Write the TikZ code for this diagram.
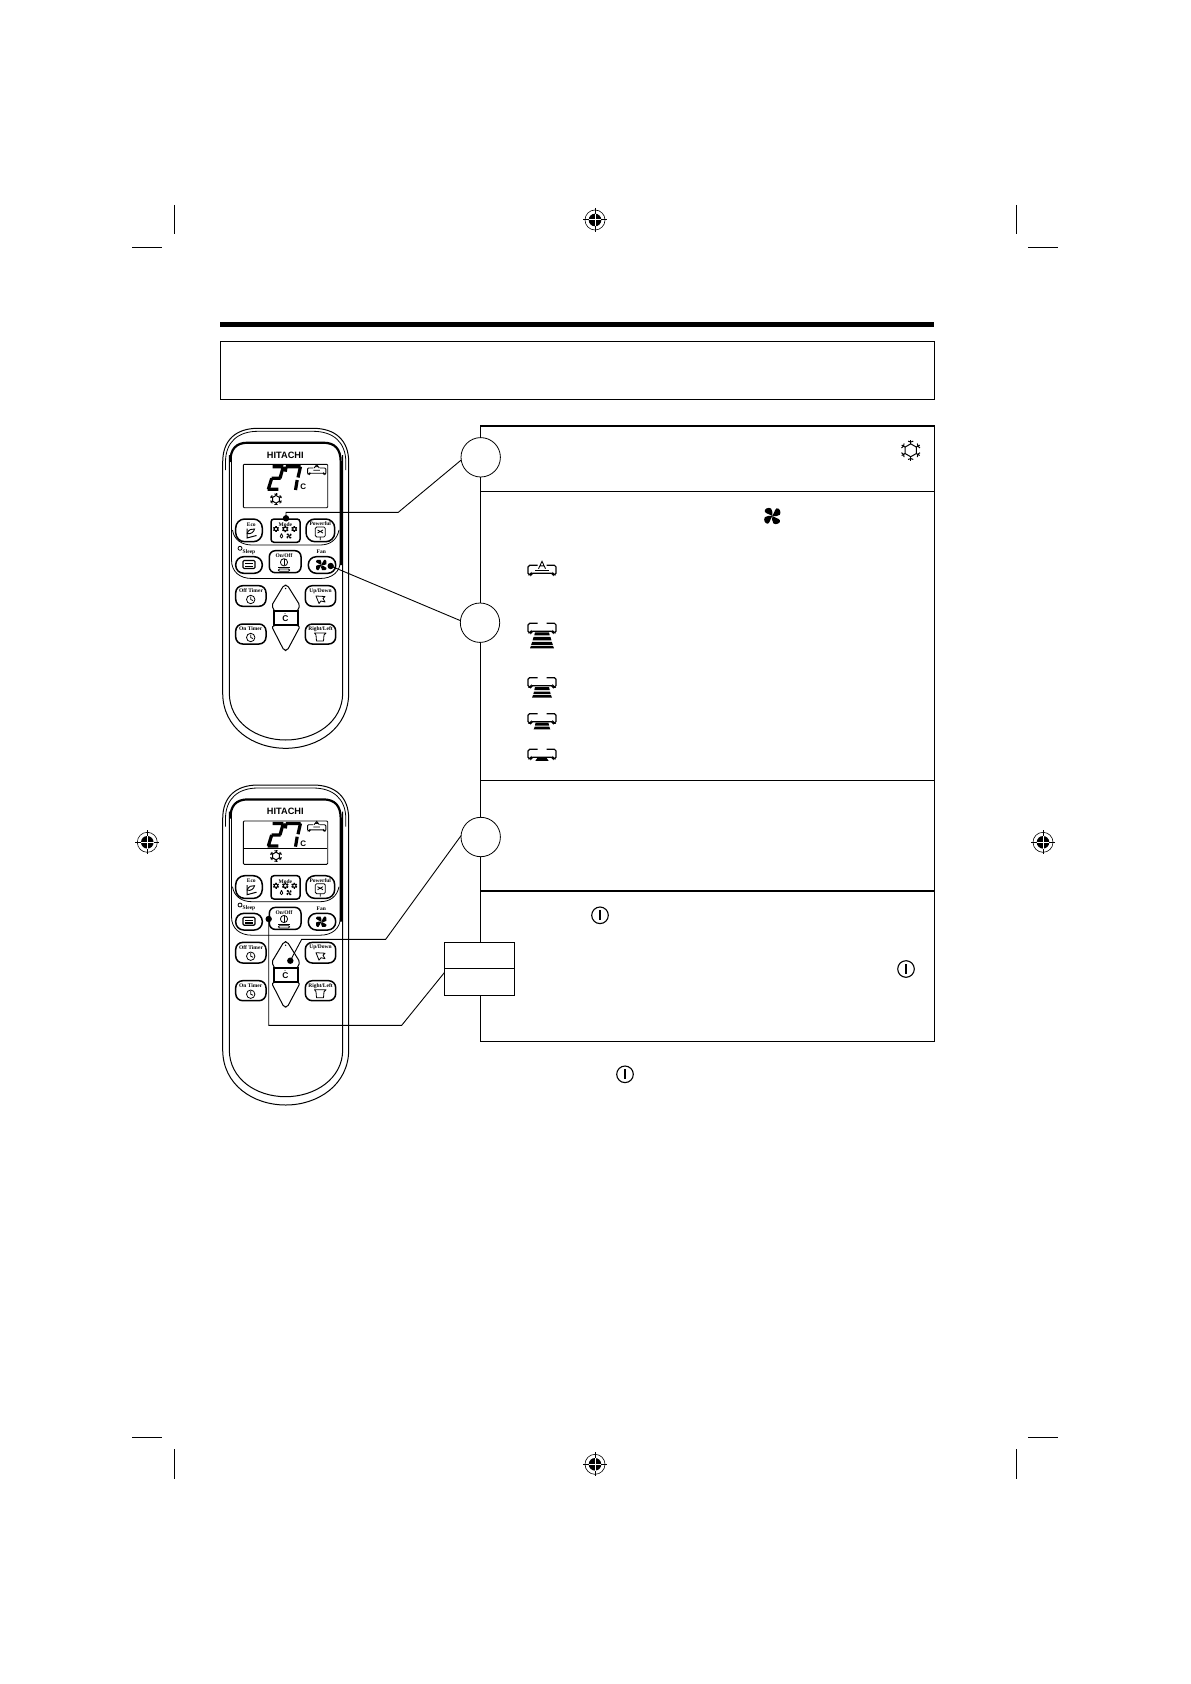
\documentclass[tikz,border=0pt]{standalone}
\usepackage{fontspec}
\setmainfont{Liberation Serif}
\newfontfamily\hitfont{Liberation Sans}
\tikzset{
  frameline/.style={line width=0.55pt,draw=black},
  thinline/.style={line width=0.4pt,draw=black},
  bodyline/.style={line width=0.5pt,draw=black},
  heavyline/.style={line width=1.1pt,draw=black},
  btn/.style={line width=0.75pt,draw=black},
  iconline/.style={line width=0.4pt,draw=black,line join=round},
  flakeline/.style={line width=0.5pt,draw=black,line join=round},
  segline/.style={line width=1.6pt,draw=black},
  acline/.style={line width=0.6pt,draw=black,rounded corners=0.8pt},
  lbl/.style={inner sep=0pt,outer sep=0pt,font=\bfseries\fontsize{2.75}{3.2}\selectfont},
  callout/.style={circle,thinline,fill=white,minimum size=19.7pt,inner sep=0pt,outer sep=0pt},
  tagbox/.style={rectangle,frameline,fill=white,minimum width=35.2pt,inner sep=0pt,outer sep=0pt},
  bigdot/.style={circle,fill=black,minimum size=3.2pt,inner sep=0pt,outer sep=0pt},
  leader/.style={line width=0.45pt,draw=black}
}
% registration mark
\newcommand{\regmark}[2]{%
  \begin{scope}[shift={(#1,#2)}]
    \draw[line width=0.3pt] (0,0) circle[radius=10];
    \fill[black] (0,0) circle[radius=6.3];
    \draw[line width=0.5pt] (-12,0) -- (-6.3,0) (6.3,0) -- (12,0) (0,-12) -- (0,-6.3) (0,6.3) -- (0,12);
    \draw[white,line width=0.5pt] (-6.3,0) -- (6.3,0) (0,-6.3) -- (0,6.3);
  \end{scope}}
% air-conditioner outline, origin at the middle of its top edge
\newcommand{\acbody}{%
  \draw[acline] (-4.5,0) -- (-14,0) -- (-14,9.5) -- (-11,9.5) -- (-11,8) -- (11,8) -- (11,9.5) -- (14,9.5) -- (14,0) -- (4.5,0);}
% one trapezoid bar of the fan-speed stack
\newcommand{\acbar}[4]{\fill[black] (-#2,#1) -- (#2,#1) -- (#4,#3) -- (-#4,#3) -- cycle;}
\newcommand{\snowflake}[3]{%
  \begin{scope}[shift={(#1,#2)},scale=#3]
    \draw[flakeline] (90:6.6) -- (30:6.6) -- (-30:6.6) -- (-90:6.6) -- (-150:6.6) -- (150:6.6) -- cycle;
    \foreach \a in {30,90,150,210,270,330}{
      \draw[flakeline] (\a:6.6) -- (\a:10.6);
      \draw[flakeline] (\a:8.4) ++(\a+70:2.8) -- (\a:8.4) -- ++(\a-70:2.8);
    }
  \end{scope}}
\newcommand{\fanicon}[3]{%
  \begin{scope}[shift={(#1,#2)},scale=#3]
    \foreach \a in {15,105,195,285}{
      \fill[black,rotate=\a] (0,0) .. controls (-1.5,-2.5) and (-5.5,-3.5) .. (-6.2,-6) .. controls (-6.8,-9) and (-1,-10) .. (0.8,-7.5) .. controls (1.8,-5) and (1,-2.5) .. (0,0);
    }
  \end{scope}}
\newcommand{\powericon}[3]{%
  \draw[line width=0.55pt] (#1,#2) circle[radius=#3];
  \draw[line width=0.8pt] (#1,#2-0.6*#3) -- (#1,#2+0.6*#3);}
\newcommand{\clockicon}[2]{%
  \draw[iconline] (#1,#2) circle[radius=4.2];
  \draw[iconline] (#1,#2-3) -- (#1,#2) -- (#1+2.2,#2+1);}
\newcommand{\remote}[3]{%
\begin{scope}[shift={(0,#2)}]
  % case
  \draw[bodyline] (222.7,462) .. controls (222.7,440) and (236,428.3) .. (258,428.3) -- (313,428.3) .. controls (335,428.3) and (348.7,440) .. (348.7,462) -- (348.7,693) .. controls (348.7,728) and (318,748.3) .. (285.7,748.3) .. controls (253,748.3) and (222.7,728) .. (222.7,693) -- cycle;
  \draw[thinline] (225.5,470) -- (225.5,462) .. controls (225.5,442) and (238,431.3) .. (258,431.3) -- (313,431.3) .. controls (333,431.3) and (345.8,442) .. (345.8,462) -- (345.8,470);
  \draw[bodyline] (229.3,455) -- (229.3,693) .. controls (229.3,722) and (256,740) .. (285.7,740) .. controls (315,740) and (342.7,722) .. (342.7,693) -- (342.7,455);
  % panel
  \draw[thinline] (231.5,455) -- (231.5,560) .. controls (231.5,572) and (240,578.5) .. (252,578.5) -- (320,578.5) .. controls (332,578.5) and (340.5,572) .. (340.5,560) -- (340.5,455);
  \draw[heavyline] (230.3,462) .. controls (230.3,449) and (236,442.7) .. (248,442.7) -- (323,442.7) .. controls (335,442.7) and (340.7,449) .. (340.7,462) -- (340.7,565);
  \draw[thinline] (232.5,530) .. controls (234,540) and (242,545) .. (252,545) -- (320,545) .. controls (330,545) and (337,540) .. (339,530);
  \node[font=\hitfont\bfseries\fontsize{4.6}{5}\selectfont,inner sep=0pt] (hit#1) at (285.3,455) {HITACHI};
  % display
  \draw[line width=0.45pt,rounded corners=0.5pt] (243.3,464.3) rectangle (327.7,507.7);
  #3
  \draw[segline] (272.7,466.7) -- (283.3,466.7) (283.3,466.7) -- (280,478.3) (271.7,478.3) -- (280.5,478.3) (271.7,478.3) -- (268.3,489.3) (267.6,489.3) -- (278.3,489.3);
  \draw[segline] (285.8,466.7) -- (300.7,466.7) (286,466.7) -- (285.3,471.7) (300.5,466.7) -- (298,477.5) (297.2,480) -- (295.5,490);
  \node[inner sep=0pt,font=\hitfont\bfseries\fontsize{4}{4.5}\selectfont] (unit#1) at (303.3,487) {C};
  \snowflake{276}{499.3}{0.58}
  % buttons, first row
  \draw[btn,rounded corners=4.5pt] (235.7,519) rectangle (262.3,541.7);
  \draw[btn,rounded corners=1.5pt] (271,519) rectangle (300,542.3);
  \draw[btn,rounded corners=4.5pt] (306,519) rectangle (334.7,541.7);
  \node[lbl] (eco#1) at (251.3,524.3) {Eco};
  \node[lbl] (mode#1) at (285.3,524.8) {Mode};
  \node[lbl] (pow#1) at (320.3,523.7) {Powerful};
  \draw[line width=0.5pt] (247,528.5) -- (247,538) -- (256.5,535.5);
  \draw[line width=0.45pt] (247,533.5) .. controls (248.5,529.5) and (252,528.5) .. (254.5,529) .. controls (254,532) and (251,534.5) .. (247,533.5);
  \snowflake{276}{529}{0.27}
  \snowflake{285.3}{529}{0.3}
  \snowflake{294.3}{529}{0.27}
  \draw[iconline] (281.5,533.5) .. controls (280,535.5) and (279.5,538) .. (281.5,538) .. controls (283.5,538) and (283,535.5) .. (281.5,533.5);
  \fanicon{289}{536}{0.33}
  \draw[iconline,rounded corners=0.7pt] (315.3,527) rectangle (325.3,537);
  \draw[iconline] (317.5,530) -- (323,533) (323,530) -- (317.5,533) (320.3,537) -- (320.3,540);
  % buttons, second row
  \draw[btn,rounded corners=4pt] (235.7,556.7) rectangle (262.3,573.3);
  \draw[btn,rounded corners=3pt] (269.3,550.7) rectangle (301,572.7);
  \draw[btn,rounded corners=4pt] (308.3,556.7) rectangle (335.7,573.3);
  \draw[iconline] (240,548.3) circle[radius=2];
  \node[lbl] (sleep#1) at (249,551.7) {Sleep};
  \node[lbl] (onoff#1) at (284,555.7) {On/Off};
  \node[lbl] (fan#1) at (321.3,551.7) {Fan};
  \draw[line width=0.55pt,rounded corners=0.6pt] (243,560.5) rectangle (255,568.5);
  \draw[line width=0.45pt] (245,563.5) -- (253,563.5);
  \fill[black] (245,565.5) rectangle (253,567);
  \draw[iconline] (284,562.3) circle[radius=3.6];
  \draw[line width=0.5pt] (284,559.3) -- (284,565.3);
  \draw[iconline] (278.3,567.2) -- (289.7,567.2);
  \draw[iconline,rounded corners=0.6pt] (278.3,569) rectangle (289.7,571.2);
  \fanicon{321.3}{565}{0.68}
  % timer row
  \draw[btn,rounded corners=3.5pt] (235.7,585.7) rectangle (266,606.3);
  \draw[btn,rounded corners=3.5pt] (305.3,585.7) rectangle (335.7,606.3);
  \draw[btn,rounded corners=3.5pt] (235.7,624) rectangle (266,644);
  \draw[btn,rounded corners=3.5pt] (305.3,624) rectangle (335.7,644);
  \node[lbl] (offt#1) at (251,591) {Off Timer};
  \node[lbl] (updn#1) at (320.5,591) {Up/Down};
  \node[lbl] (ont#1) at (250.7,629) {On Timer};
  \node[lbl] (rtlt#1) at (320.5,629) {Right/Left};
  \clockicon{250.7}{599.5}
  \clockicon{250.7}{637.5}
  \draw[iconline] (316,596) -- (319,603.5) -- (321,601) -- (325,602) -- (323,598.5) -- (325,596.5) -- cycle;
  \draw[iconline] (314.5,633) -- (326,633) -- (324,635) -- (323.5,641) -- (316.5,641) -- (316,635) -- cycle;
  % temperature keys
  \draw[line width=0.5pt,rounded corners=1pt,line join=round] (275,612) -- (271.7,605.5) -- (284,585) -- (287.2,585) -- (300,605.5) -- (296.8,612);
  \draw[line width=0.5pt,rounded corners=1pt,line join=round] (275,625.5) -- (271.7,626.5) -- (284,650.5) -- (287.2,650.5) -- (300,626.5) -- (296.8,625.5);
  \fill[black] (285.6,588.5) circle[radius=0.8];
  \draw[line width=1pt] (273.5,611.3) rectangle (298,625);
  \node[inner sep=0pt,font=\hitfont\bfseries\fontsize{4.2}{4.5}\selectfont] (temp#1) at (285.5,619) {C};
  \fill[black] (285,613.7) circle[radius=0.5];
\end{scope}}
\begin{document}
\begin{tikzpicture}[x=0.5pt,y=-0.5pt]
  \useasboundingbox (0,0) rectangle (1190,1684);
  \fill[white] (0,0) rectangle (1190,1684);

  % crop marks
  \draw[frameline] (174.3,205) -- (174.3,234.5) (132.3,247.3) -- (162,247.3);
  \draw[frameline] (1016.3,205) -- (1016.3,234.5) (1028,247.3) -- (1058,247.3);
  \draw[frameline] (174.3,1449) -- (174.3,1478.7) (132.3,1437.5) -- (162,1437.5);
  \draw[frameline] (1016.3,1449) -- (1016.3,1478.7) (1028,1437.5) -- (1058,1437.5);
  \regmark{595}{220}
  \regmark{595}{1464.3}
  \regmark{147.3}{842.3}
  \regmark{1043}{842.3}

  % heading
  \fill[black] (220,321.8) rectangle (934.3,327);
  \draw[frameline] (220.3,341.2) rectangle (934.3,399.3);

  % table
  \draw[frameline] (480.5,426) rectangle (934.3,1041.3);
  \draw[frameline] (480.5,491.3) -- (934.3,491.3) (480.5,780.3) -- (934.3,780.3) (480.5,891) -- (934.3,891);

  % remotes
  \remote{a}{0}{%
    \begin{scope}[shift={(316.7,468)},scale=0.65]
      \draw[line width=0.45pt,rounded corners=0.5pt] (-5,0) -- (-14,0) -- (-14,9.5) -- (-11,9.5) -- (-11,8) -- (11,8) -- (11,9.5) -- (14,9.5) -- (14,0) -- (5,0);
      \draw[line width=0.45pt] (-4,0) -- (0,-5) -- (4,0) (-2,-2) -- (2,-2) (-5,3.5) -- (5,3.5);
    \end{scope}}
  \remote{b}{356.7}{%
    \begin{scope}[shift={(316.7,468)},scale=0.65]
      \draw[line width=0.45pt,rounded corners=0.5pt] (-5,0) -- (-14,0) -- (-14,9.5) -- (-11,9.5) -- (-11,8) -- (11,8) -- (11,9.5) -- (14,9.5) -- (14,0) -- (5,0);
      \draw[line width=0.45pt] (-4,0) -- (0,-5) -- (4,0) (-2,-2) -- (2,-2) (-5,3.5) -- (5,3.5);
    \end{scope}
    \draw[line width=0.5pt] (244,491.7) -- (326.5,491.7);}

  % icons in the table
  \snowflake{910.7}{450.3}{0.98}
  \fanicon{772.3}{516}{1.0}
  \begin{scope}[shift={(542,565.3)}]
    \acbody
    \draw[line width=0.45pt] (-3.5,3.5) -- (0,-4) -- (3.5,3.5) (-2,0.5) -- (2,0.5);
    \draw[line width=0.5pt] (-7,5.5) -- (7,5.5);
  \end{scope}
  \begin{scope}[shift={(542,623.3)}]
    \acbody
    \acbar{9}{7}{12}{7.7}
    \acbar{13.5}{8.4}{17}{9.4}
    \acbar{18.5}{9.8}{21.5}{10.8}
    \acbar{22.5}{11}{25}{12}
  \end{scope}
  \begin{scope}[shift={(542,677.7)}]
    \acbody
    \acbar{9.3}{7}{12.5}{7.7}
    \acbar{13.8}{8}{16.5}{8.7}
    \acbar{17.5}{9}{20}{10}
  \end{scope}
  \begin{scope}[shift={(542,713.7)}]
    \acbody
    \acbar{9}{6.5}{11.8}{7}
    \acbar{12.8}{7.2}{15.6}{8.3}
  \end{scope}
  \begin{scope}[shift={(542,749.3)}]
    \acbody
    \acbar{8.5}{4.5}{11.5}{6.6}
  \end{scope}
  \powericon{600}{915.3}{8.3}
  \powericon{906}{969}{8.3}
  \powericon{625}{1074.3}{8.3}

  % callouts
  \node[callout] (c1) at (480.7,457.3) {};
  \node[callout] (c2) at (480,622.7) {};
  \node[callout] (c3) at (480.7,837) {};
  \node[tagbox,minimum height=13pt] (boxa) at (479.5,955.3) {};
  \node[tagbox,minimum height=13.5pt] (boxb) at (479.5,981.8) {};

  \node[bigdot] (d1) at (286,518.3) {};
  \node[bigdot] (d2) at (330.7,566) {};
  \node[bigdot] (d3) at (290.3,960.7) {};
  \node[bigdot] (d4) at (268.7,919) {};

  \coordinate (k1) at (398.3,512.3);
  \coordinate (k3a) at (301.7,939.3);
  \coordinate (k3b) at (385.7,939.3);
  \coordinate (k4) at (401.7,1025.3);
  \coordinate (e4) at (444.3,972.7);

  \draw[leader] (d1.center) |- (k1) -- (c1.188);
  \draw[leader] (d2.center) -- (c2.174);
  \draw[leader] (d3.center) -- (k3a) -- (k3b) -- (c3.176);
  \draw[leader] (d4.center) |- (k4) -- (e4);
\end{tikzpicture}
\end{document}
